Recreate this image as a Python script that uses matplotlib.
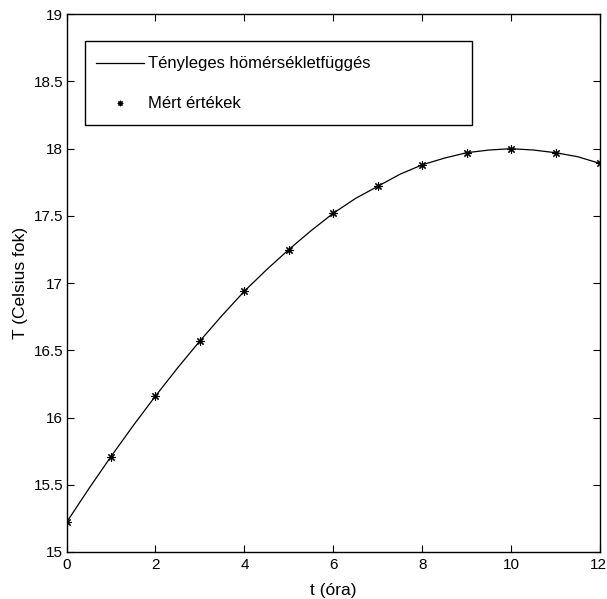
import numpy as np
import matplotlib
matplotlib.use('Agg')
import matplotlib.pyplot as plt
import matplotlib.transforms as mtransforms
from matplotlib.patches import Rectangle

plt.rcParams['font.family'] = ['Liberation Sans', 'DejaVu Sans']

# measured values (hourly)
t_meas = [0, 1, 2, 3, 4, 5, 6, 7, 8, 9, 10, 11, 12]
T_meas = [15.22, 15.71, 16.16, 16.57, 16.94, 17.25, 17.52, 17.72, 17.88,
          17.97, 18.00, 17.97, 17.89]

# actual curve read at half-hour steps
t_line = [0, 0.5, 1, 1.5, 2, 2.5, 3, 3.5, 4, 4.5, 5, 5.5, 6, 6.5, 7, 7.5,
          8, 8.5, 9, 9.5, 10, 10.5, 11, 11.5, 12]
T_line = [15.22, 15.47, 15.71, 15.94, 16.16, 16.37, 16.57, 16.76, 16.94,
          17.10, 17.25, 17.39, 17.52, 17.63, 17.72, 17.81, 17.88, 17.93,
          17.97, 17.99, 18.00, 17.99, 17.97, 17.94, 17.89]

xticks = [0, 2, 4, 6, 8, 10, 12]
yticks = [15, 15.5, 16, 16.5, 17, 17.5, 18, 18.5, 19]
ytick_labels = ['15', '15.5', '16', '16.5', '17', '17.5', '18', '18.5', '19']

fig = plt.figure(figsize=(6.07, 5.99), dpi=100)
ax = fig.add_axes([0.1096, 0.0785, 0.879, 0.8977])

ax.plot(t_line, T_line, color='k', lw=0.9,
        label='Tényleges hömérsékletfüggés')
ax.plot(t_meas, T_meas, ls='none', marker=(8, 2, 0), ms=6, mew=0.8,
        color='k', label='Mért értékek')

ax.set_xlim(0, 12)
ax.set_ylim(15, 19)
ax.set_xticks(xticks)
ax.set_yticks(yticks)
ax.set_yticklabels(ytick_labels)
ax.tick_params(direction='in', length=5, width=0.8, top=True, right=True,
               labelsize=11)
ax.tick_params(axis='y', pad=2.5)
ax.tick_params(axis='x', pad=4.5)
for s in ax.spines.values():
    s.set_linewidth(1.0)

# last x tick label sits right at the figure edge, nudge it in a bit
last = ax.xaxis.get_major_ticks()[-1].label1
last.set_transform(last.get_transform() +
                   mtransforms.ScaledTranslation(-0.02, 0, fig.dpi_scale_trans))

ax.set_xlabel('t (óra)', fontsize=12.5)
ax.set_ylabel('T (Celsius fok)', fontsize=12.5)
ax.xaxis.set_label_coords(0.5, -0.057)
ax.yaxis.set_label_coords(-0.072, 0.5)

# legend box (matlab style, wide on the right)
box = Rectangle((0.0347, 0.794), 0.725, 0.157, transform=ax.transAxes,
                facecolor='white', edgecolor='k', lw=1.0, zorder=4)
ax.add_patch(box)
leg = ax.legend(loc='upper left', bbox_to_anchor=(0.0253, 0.951),
                borderaxespad=0, fontsize=12, frameon=False,
                handlelength=2.87, borderpad=0.95, labelspacing=1.5,
                handletextpad=0.25, markerscale=0.65)
leg.set_zorder(5)

fig.savefig('out.png', dpi=100)
